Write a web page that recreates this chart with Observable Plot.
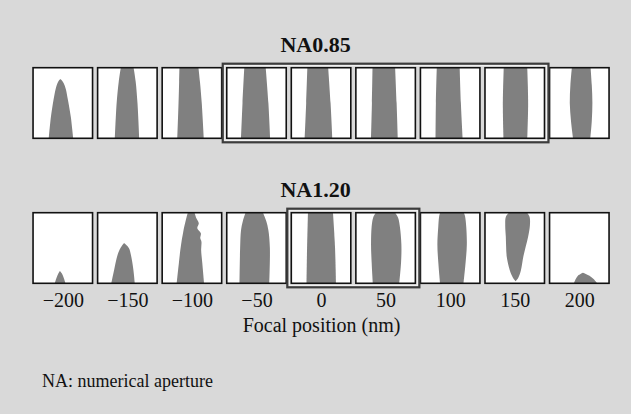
<!DOCTYPE html>
<html><head><meta charset="utf-8">
<script src="https://cdn.jsdelivr.net/npm/d3@7"></script>
<script src="https://cdn.jsdelivr.net/npm/@observablehq/plot@0.6"></script>
<style>
html,body{margin:0;padding:0;background:#d9d9d9;}
#chart{position:relative;width:631px;height:414px;background:#d9d9d9;font-family:"Liberation Serif","Times New Roman",serif;overflow:hidden}
#chart svg{display:block}
#caption{position:absolute;left:42px;top:371px;font-size:18px;line-height:20px;color:#111;white-space:nowrap}
</style></head><body>
<div id="chart"></div>
<script>
// ---- data ----
const focalPositions = [-200, -150, -100, -50, 0, 50, 100, 150, 200];
const rowTitles = ["NA0.85", "NA1.20"];
const highlightNA085 = [-50, 150];
const highlightNA120 = [0, 50];
const axisTitle = "Focal position (nm)";
const captionText = "NA: numerical aperture";
// resist profile per focal position: [height (0-1), left edge, right edge] (edges relative to panel half-width)
const profilesNA085 = [
  [[0,-0.47,0.35],[0.3,-0.40,0.27],[0.55,-0.31,0.17],[0.7,-0.24,0.10],[0.78,-0.18,0.03],[0.82,-0.13,-0.03],[0.84,-0.08,-0.08]],
  [[0,-0.42,0.40],[0.5,-0.36,0.34],[0.8,-0.29,0.28],[1,-0.22,0.21]],
  [[0,-0.49,0.40],[0.5,-0.45,0.33],[0.8,-0.43,0.27],[1,-0.42,0.22]],
  [[0,-0.52,0.46],[0.5,-0.47,0.40],[1,-0.41,0.31]],
  [[0,-0.55,0.38],[0.5,-0.50,0.32],[1,-0.46,0.24]],
  [[0,-0.49,0.41],[0.5,-0.46,0.37],[1,-0.44,0.32]],
  [[0,-0.49,0.42],[0.5,-0.48,0.36],[1,-0.45,0.32]],
  [[0,-0.38,0.42],[0.5,-0.40,0.45],[1,-0.37,0.42]],
  [[0,-0.21,0.37],[0.25,-0.28,0.42],[0.5,-0.32,0.44],[0.75,-0.30,0.42],[1,-0.25,0.38]]
];
const profilesNA120 = [
  [[0,-0.27,0.09],[0.08,-0.21,0.03],[0.14,-0.15,-0.03],[0.175,-0.10,-0.10]],
  [[0,-0.54,0.25],[0.2,-0.44,0.20],[0.4,-0.33,0.12],[0.5,-0.23,0.05],[0.57,-0.11,-0.11]],
  [[0,-0.51,0.41],[0.28,-0.44,0.35],[0.47,-0.39,0.31],[0.59,-0.35,0.32],[0.64,-0.33,0.28],[0.71,-0.30,0.30],[0.78,-0.27,0.18],[0.85,-0.23,0.23],[0.92,-0.19,0.15],[1,-0.14,0.09]],
  [[0,-0.57,0.43],[0.5,-0.55,0.45],[0.75,-0.52,0.40],[0.88,-0.46,0.33],[1,-0.37,0.22]],
  [[0,-0.49,0.50],[0.5,-0.47,0.47],[1,-0.44,0.40]],
  [[0,-0.43,0.46],[0.3,-0.47,0.52],[0.55,-0.49,0.53],[0.8,-0.47,0.48],[0.93,-0.42,0.42],[1,-0.33,0.32]],
  [[0,-0.34,0.45],[0.3,-0.40,0.52],[0.55,-0.43,0.56],[0.8,-0.40,0.54],[0.95,-0.37,0.50],[1,-0.34,0.46]],
  [[0.03,0.03,0.03],[0.08,-0.06,0.12],[0.19,-0.17,0.21],[0.38,-0.27,0.29],[0.52,-0.29,0.37],[0.66,-0.30,0.45],[0.82,-0.32,0.51],[0.94,-0.30,0.50],[1,-0.20,0.42]],
  [[0,-0.18,0.60],[0.06,-0.12,0.48],[0.11,-0.04,0.33],[0.15,0.12,0.12]]
];

// ---- layout (sizes) ----
const PANEL_HALF = 23.04; // panel half-width in focal-axis units
const FONT = "Liberation Serif, Times New Roman, serif";

function profileRows(profiles) {
  return profiles.flatMap((pts, i) => pts.map(([h, l, r]) => ({
    focal: focalPositions[i], h,
    left: focalPositions[i] + l * PANEL_HALF,
    right: focalPositions[i] + r * PANEL_HALF
  })));
}

function makeRow({profiles, title, box, withAxis, height, mt, mb}) {
  const marks = [
    Plot.rect(focalPositions, {x1: d => d - PANEL_HALF, x2: d => d + PANEL_HALF, y1: () => 0, y2: () => 1, fill: "white"}),
    Plot.areaX(profileRows(profiles), {y: "h", x1: "left", x2: "right", z: "focal", fill: "#808080", curve: "catmull-rom"}),
    Plot.rect(focalPositions, {x1: d => d - PANEL_HALF, x2: d => d + PANEL_HALF, y1: () => 0, y2: () => 1, fill: "none", stroke: "#111", strokeWidth: 1.6}),
    Plot.rect([box], {x1: d => d[0] - PANEL_HALF, x2: d => d[1] + PANEL_HALF, y1: () => 0, y2: () => 1, inset: -2, fill: "none", stroke: "#f2f2f2", strokeWidth: 1.2}),
    Plot.rect([box], {x1: d => d[0] - PANEL_HALF, x2: d => d[1] + PANEL_HALF, y1: () => 0, y2: () => 1, inset: -4, fill: "none", stroke: "#3c3c3c", strokeWidth: 2.2}),
    Plot.text([title], {text: d => d, frameAnchor: "top", lineAnchor: "bottom", dy: -16, dx: -6, fontSize: 22, fontWeight: "bold", fill: "#111"})
  ];
  if (withAxis) {
    marks.push(Plot.axisX(focalPositions, {tickSize: 0, tickPadding: 9, fontSize: 20, label: null,
      tickFormat: d => d < 0 ? "\u2212" + Math.abs(d) : String(d)}));
    marks.push(Plot.text([axisTitle], {text: d => d, frameAnchor: "bottom", lineAnchor: "bottom", dy: 48, fontSize: 20, fill: "#111"}));
  }
  return Plot.plot({
    width: 631, height,
    marginLeft: 62.8, marginRight: 51.7, marginTop: mt, marginBottom: mb,
    x: {domain: [-200, 200], axis: null},
    y: {domain: [0, 1], axis: null},
    style: {background: "transparent", fontFamily: FONT, fontSize: "20px", color: "#111"},
    marks
  });
}

const chart = document.getElementById("chart");
chart.append(makeRow({profiles: profilesNA085, title: rowTitles[0], box: highlightNA085, withAxis: false, height: 150, mt: 67.7, mb: 11.7}));
chart.append(makeRow({profiles: profilesNA120, title: rowTitles[1], box: highlightNA120, withAxis: true, height: 200, mt: 62.7, mb: 66.7}));
const cap = document.createElement("div");
cap.id = "caption";
cap.textContent = captionText;
chart.append(cap);
</script>
</body></html>
